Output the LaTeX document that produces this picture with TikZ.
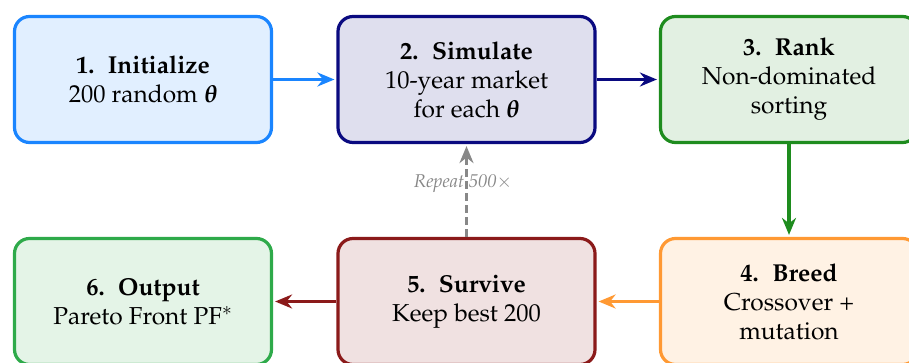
\documentclass[tikz,border=0pt]{standalone}
\usepackage[T1]{fontenc}
\usepackage{mathpazo}
\usepackage{bm}
\usetikzlibrary{arrows.meta}
\definecolor{cblue}{HTML}{1A85FF}
\definecolor{cnavy}{HTML}{0A0A80}
\definecolor{cgreen}{HTML}{1E8C1E}
\definecolor{corange}{HTML}{FF9933}
\definecolor{cred}{HTML}{8B1A1A}
\definecolor{cgreenb}{HTML}{2EAA4A}
\definecolor{cgray}{HTML}{888888}
\tikzset{
  stagebox/.style={draw=#1, fill=#1!13, line width=3.2pt, rounded corners=15pt,
    minimum width=257pt, minimum height=126pt, align=center,
    font=\fontsize{24.5}{29}\selectfont, text=black},
  flow/.style={draw=#1, line width=3.4pt, -{Stealth[length=17pt,width=14pt]}, shorten >=2pt},
  loopline/.style={draw=cgray, line width=3.4pt, dash pattern=on 8pt off 4pt,
    -{Stealth[length=17pt,width=14pt]}, shorten >=2pt},
  looplabel/.style={text=cgray, font=\fontsize{18.5}{20}\selectfont\itshape}
}
\newcommand{\stitle}[2]{\textbf{#1\hspace{0.55em}#2}}
\begin{document}
\begin{tikzpicture}[x=1pt,y=-1pt]
\useasboundingbox (0,0) rectangle (909,362);
\node[stagebox=cblue] (b1) at (143,79.5) {\stitle{1.}{Initialize}\\200 random $\bm{\theta}$};
\node[stagebox=cnavy] (b2) at (466.5,79.5) {\stitle{2.}{Simulate}\\10-year market\\for each $\bm{\theta}$};
\node[stagebox=cgreen] (b3) at (789,79.5) {\stitle{3.}{Rank}\\Non-dominated\\sorting};
\node[stagebox=corange] (b4) at (789,301.5) {\stitle{4.}{Breed}\\Crossover +\\mutation};
\node[stagebox=cred] (b5) at (466.5,301.5) {\stitle{5.}{Survive}\\Keep best 200};
\node[stagebox=cgreenb] (b6) at (143,301.5) {\stitle{6.}{Output}\\Pareto Front PF$^{*}$};
\draw[flow=cblue] (b1.east) -- (b2.west);
\draw[flow=cnavy] (b2.east) -- (b3.west);
\draw[flow=cgreen] (b3.south) -- (b4.north);
\draw[flow=corange] (b4.west) -- (b5.east);
\draw[flow=cred] (b5.west) -- (b6.east);
\draw[loopline] (b5.north) -- (b2.south);
\node[looplabel] (lbl) at (463,184) {Repeat 500$\times$};
\end{tikzpicture}
\end{document}
